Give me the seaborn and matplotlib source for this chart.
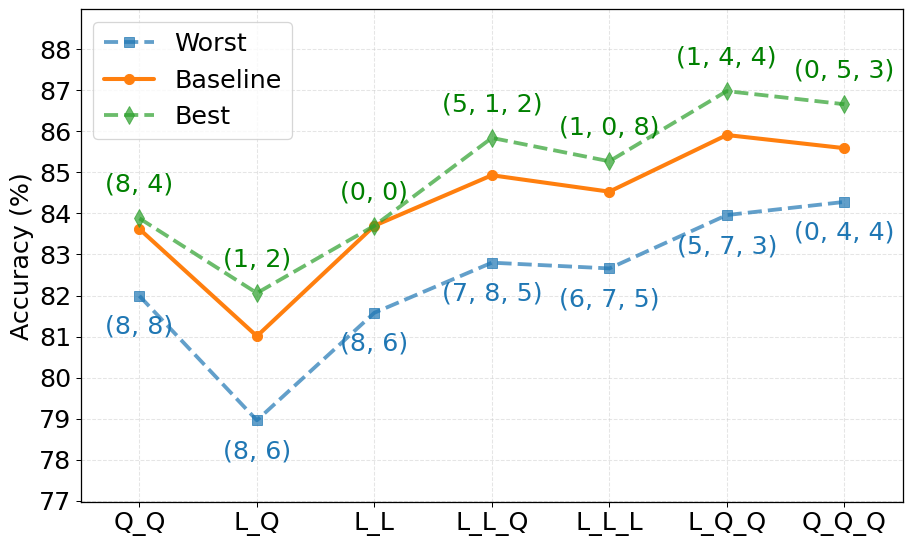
import matplotlib
matplotlib.use("Agg")
import matplotlib.pyplot as plt
import seaborn as sns
import numpy as np
import pandas as pd

categories = ["Q_Q", "L_Q", "L_L", "L_L_Q", "L_L_L", "L_Q_Q", "Q_Q_Q"]
worst = [81.99, 78.96, 81.58, 82.80, 82.66, 83.96, 84.28]
baseline = [83.62, 81.01, 83.70, 84.93, 84.53, 85.91, 85.59]
best = [83.88, 82.06, 83.70, 85.84, 85.27, 86.98, 86.66]
worst_labels = ["(8, 8)", "(8, 6)", "(8, 6)", "(7, 8, 5)", "(6, 7, 5)", "(5, 7, 3)", "(0, 4, 4)"]
best_labels = ["(8, 4)", "(1, 2)", "(0, 0)", "(5, 1, 2)", "(1, 0, 8)", "(1, 4, 4)", "(0, 5, 3)"]

sns.set_style("white", {"text.color": "black", "axes.labelcolor": "black",
                        "xtick.color": "black", "ytick.color": "black",
                        "axes.edgecolor": "black"})
plt.rcParams['font.family'] = ['DejaVu Sans']
plt.rcParams['font.size'] = 20

fig = plt.figure(figsize=(10, 545 / 91.3), dpi=91.3)
ax = fig.add_axes([80.7 / 913, 1 - 502.4 / 545, (903 - 80.7) / 913, (502.4 - 9) / 545])

x = np.arange(len(categories))
df = pd.DataFrame({"x": x, "Worst": worst, "Baseline": baseline, "Best": best})

sns.lineplot(data=df, x="x", y="Worst", ax=ax, color="#1f77b4", linestyle="--",
             marker="s", markersize=8, linewidth=3, alpha=0.7, label="Worst",
             markeredgecolor="#1f77b4")
sns.lineplot(data=df, x="x", y="Baseline", ax=ax, color="#ff7f0e", linestyle="-",
             marker="o", markersize=8, linewidth=3.2, label="Baseline",
             markeredgecolor="#ff7f0e")
sns.lineplot(data=df, x="x", y="Best", ax=ax, color="#2ca02c", linestyle="--",
             marker="d", markersize=10, linewidth=3, alpha=0.7, label="Best",
             markeredgecolor="#2ca02c")

for xi, yi, lab in zip(x, worst, worst_labels):
    ax.annotate(lab, (xi, yi), xytext=(0, -15), textcoords="offset points",
                ha="center", va="top", fontsize=20, color="#1f77b4")
for xi, yi, lab in zip(x, best, best_labels):
    ax.annotate(lab, (xi, yi), xytext=(0, 17), textcoords="offset points",
                ha="center", va="bottom", fontsize=20, color="green")

ax.set_xticks(x)
ax.set_xticklabels(categories, fontsize=20)
ax.set_xlim(-0.5, 6.5)
ax.set_ylim(min(worst) - 2, max(best) + 2)
ax.set_yticks(np.arange(77, 89, 1))
ax.tick_params(axis="y", labelsize=20, left=True, length=4, colors="black")
ax.tick_params(axis="x", bottom=True, length=4, colors="black")
ax.set_xlabel("")
ax.set_ylabel("Accuracy (%)", fontsize=20, color="black")
ax.grid(True, linestyle="--", alpha=0.5)
for s in ax.spines.values():
    s.set_color("black")
    s.set_linewidth(1.0)
leg = ax.legend(loc="upper left", fontsize=20)
for t in leg.get_texts():
    t.set_color("black")

fig.savefig("out.png", dpi=91.3)
